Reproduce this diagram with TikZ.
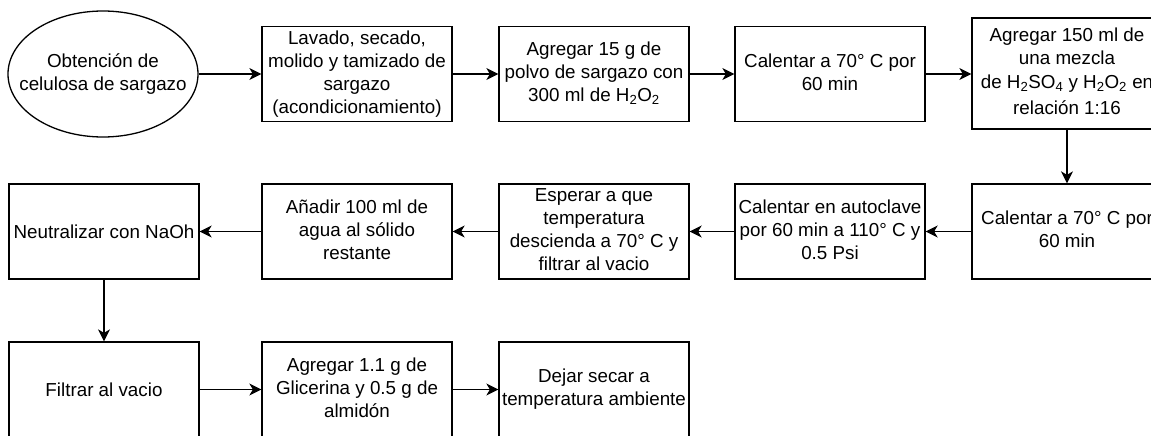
\documentclass[tikz,border=0pt]{standalone}
\usepackage{fontspec}
\setmainfont{Liberation Sans}
\usetikzlibrary{arrows.meta,shapes.geometric}

\tikzset{
  paso/.style={draw, line width=1.3pt, rectangle, minimum width=190pt,
               minimum height=95pt, inner sep=0pt, align=center},
  inicio/.style={draw, line width=1.3pt, ellipse, minimum width=190pt,
               minimum height=126pt, inner sep=0pt, align=center},
  flecha/.style={line width=1.3pt, -{Stealth[length=12pt,width=12pt,inset=3.5pt]}}
}

\begin{document}
\begin{tikzpicture}[x=1pt,y=-1pt,
        every node/.style={font=\fontsize{18.8}{23}\selectfont}]
  \useasboundingbox (0,0) rectangle (1151,436);
  \clip (0,0) rectangle (1151,436);
	      % Primera fila
	      \node[inicio] (obtencion) at (103,74) {%
		  \makebox[0pt][c]{\begin{tabular}{@{}c@{}}
		      Obtención de\\
		      celulosa de sargazo
		   \end{tabular}}};
	      \node[paso] (lavado) at (357,74) {%
		  \begin{tabular}{@{}c@{}}
		      Lavado, secado,\\
		      molido y tamizado de\\
		      sargazo\\
		      (acondicionamiento)
		   \end{tabular}};
	      \node[paso] (polvo) at (594,74) {%
		  \begin{tabular}{@{}c@{}}
		      Agregar 15 g de\\
		      polvo de sargazo con\\
		      300 ml de H\textsubscript{2}O\textsubscript{2}
		   \end{tabular}};
	      \node[paso] (calentarA) at (830,74) {%
		  \begin{tabular}{@{}c@{}}
		      Calentar a 70° C por\\
		      60 min
		   \end{tabular}};
	      \node[paso, minimum height=111pt] (mezcla) at (1067,73.5) {%
		  \begin{tabular}{@{}c@{}}
		      Agregar 150 ml de\\
		      una mezcla\\[1pt]
		      de H\textsubscript{2}SO\textsubscript{4} y H\textsubscript{2}O\textsubscript{2} en\\[3pt]
		      relación 1:16
		   \end{tabular}};
	      % Segunda fila
	      \node[paso] (calentarB) at (1067,231.5) {%
		  \begin{tabular}{@{}c@{}}
		      Calentar a 70° C por\\
		      60 min
		   \end{tabular}};
	      \node[paso] (autoclave) at (830,231.5) {%
		  \begin{tabular}{@{}c@{}}
		      Calentar en autoclave\\
		      por 60 min a 110° C y\\
		      0.5 Psi
		   \end{tabular}};
	      \node[paso] (esperar) at (594,231.5) {%
		  \begin{tabular}{@{}c@{}}
		      Esperar a que\\
		      temperatura\\
		      descienda a 70° C y\\
		      filtrar al vacio
		   \end{tabular}};
	      \node[paso] (agua) at (357,231.5) {%
		  \begin{tabular}{@{}c@{}}
		      Añadir 100 ml de\\
		      agua al sólido\\
		      restante
		   \end{tabular}};
	      \node[paso] (neutralizar) at (104,231.5) {Neutralizar con NaOh};
	      % Tercera fila
	      \node[paso] (filtrar) at (104,389.5) {Filtrar al vacio};
	      \node[paso] (glicerina) at (357,389.5) {%
		  \begin{tabular}{@{}c@{}}
		      Agregar 1.1 g de\\
		      Glicerina y 0.5 g de\\
		      almidón
		   \end{tabular}};
	      \node[paso] (secar) at (594,389.5) {%
		  \begin{tabular}{@{}c@{}}
		      Dejar secar a\\
		      temperatura ambiente
		   \end{tabular}};
	      % Flechas
	      \draw[flecha] (obtencion) -- (lavado);
	      \draw[flecha] (lavado) -- (polvo);
	      \draw[flecha] (polvo) -- (calentarA);
	      \draw[flecha] (calentarA) -- (mezcla.west |- calentarA);
	      \draw[flecha] (mezcla) -- (calentarB);
	      \draw[flecha] (calentarB) -- (autoclave);
	      \draw[flecha] (autoclave) -- (esperar);
	      \draw[flecha] (esperar) -- (agua);
	      \draw[flecha] (agua) -- (neutralizar);
	      \draw[flecha] (neutralizar) -- (filtrar);
	      \draw[flecha] (filtrar) -- (glicerina);
	      \draw[flecha] (glicerina) -- (secar);
\end{tikzpicture}
\end{document}
